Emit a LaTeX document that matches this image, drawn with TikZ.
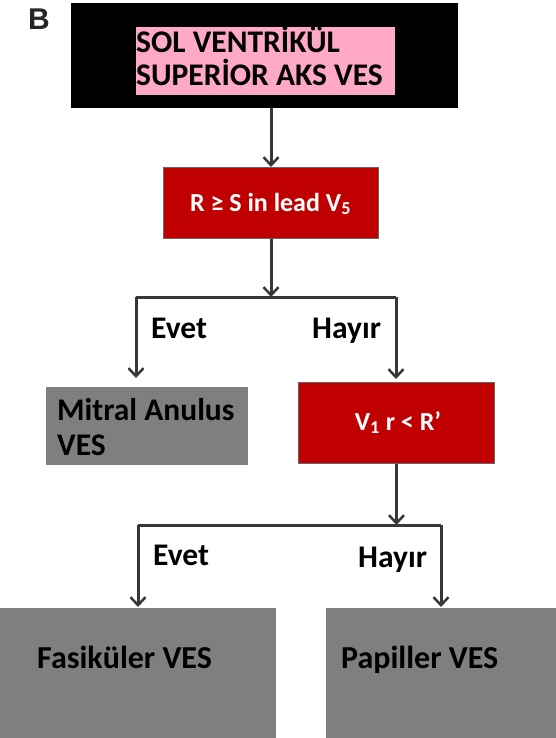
\documentclass[tikz,border=0pt]{standalone}
\usepackage{fontspec}
\setmainfont{Carlito}
\newfontfamily\arialfont{Liberation Sans}
\usetikzlibrary{arrows.meta}
\definecolor{boxred}{RGB}{192,0,0}
\definecolor{boxgray}{RGB}{127,127,127}
\definecolor{hlpink}{RGB}{255,168,200}
\definecolor{linegray}{RGB}{55,55,55}
\begin{document}
\begin{tikzpicture}[x=1pt,y=-1pt,
  box/.style={rectangle, inner sep=0pt, anchor=north west},
  redbox/.style={box, fill=boxred, draw=black!60, line width=1pt},
  graybox/.style={box, fill=boxgray},
  lbl/.style={inner sep=0pt, anchor=base west, text=black, font=\bfseries\fontsize{31.5}{35}\selectfont},
  wlbl/.style={inner sep=0pt, anchor=base, text=white, font=\bfseries\fontsize{26}{28}\selectfont},
  conn/.style={draw=linegray, line width=3pt},
  arr/.style={conn, -{Straight Barb[length=8pt,width=15pt,line width=2.5pt]}}]
\useasboundingbox (0,0) rectangle (556,738);
% label B
\node[inner sep=0pt, anchor=base west, text=black!85, font=\arialfont\bfseries\fontsize{30}{30}\selectfont] (lblB) at (28,30) {B};
% top box
\node[box, fill=black, minimum width=387pt, minimum height=105pt] (top) at (71,3) {};
\node[box, fill=hlpink, minimum width=259pt, minimum height=68pt] (hl) at (136,27) {};
\node[lbl, align=left, font=\bfseries\fontsize{31.5}{33}\selectfont] (topT) at (136,86) {SOL VENTRİKÜL\\SUPERİOR AKS VES};
% first decision
\node[redbox, minimum width=215pt, minimum height=71pt] (r1) at (163,167) {};
\node[wlbl] (r1T) at (270.5,211) {R ≥ S in lead V\textsubscript{5}};
\draw[arr] (r1.north |- top.south) -- (r1.north);
\coordinate (c1l) at (136,297);
\coordinate (c1r) at (396,297);
\draw[conn] (c1l) -- (c1r);
\draw[arr] (r1.south) -- (r1.south |- c1l);
% second level
\node[graybox, minimum width=202pt, minimum height=78pt] (mit) at (46,387) {};
\node[lbl, align=left] (mitT) at (57,455) {Mitral Anulus\\VES};
\node[redbox, minimum width=196pt, minimum height=81pt] (r2) at (298,382) {};
\node[wlbl] (r2T) at (398,430) {V\textsubscript{1} r < R’};
\draw[arr, shorten >=9pt] (c1l) -- (c1l |- mit.north);
\draw[arr, shorten >=3pt] (c1r) -- (c1r |- r2.north);
\node[lbl] (ev1) at (151,338) {Evet};
\node[lbl] (ha1) at (312,338) {Hayır};
% third level
\coordinate (c2l) at (138,525);
\coordinate (c2r) at (441,525);
\draw[conn] (c2l) -- (c2r);
\draw[arr] (r2.south) -- (r2.south |- c2l);
\node[graybox, minimum width=276pt, minimum height=131pt] (fas) at (0,608) {};
\node[graybox, minimum width=231pt, minimum height=131pt] (pap) at (326,608) {};
\draw[arr, shorten >=1pt] (c2l) -- (c2l |- fas.north);
\draw[arr, shorten >=1pt] (c2r) -- (c2r |- pap.north);
\node[lbl] (ev2) at (153,565) {Evet};
\node[lbl] (ha2) at (358,567) {Hayır};
\node[lbl, font=\bfseries\fontsize{32}{35}\selectfont] (fasT) at (37,668) {Fasiküler VES};
\node[lbl, font=\bfseries\fontsize{32}{35}\selectfont] (papT) at (341,668) {Papiller VES};
\end{tikzpicture}
\end{document}
